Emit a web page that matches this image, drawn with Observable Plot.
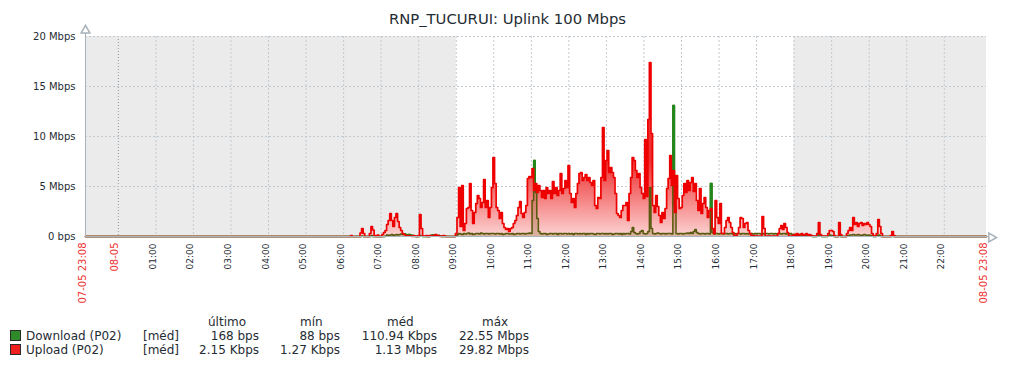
<!DOCTYPE html>
<html><head><meta charset="utf-8">
<script src="https://cdn.jsdelivr.net/npm/d3@7"></script>
<script src="https://cdn.jsdelivr.net/npm/@observablehq/plot@0.6"></script>
<style>
body{margin:0;background:#fff;font-family:"DejaVu Sans",sans-serif;color:#1f2c33}
#wrap{position:relative;width:1016px;height:368px;overflow:hidden}
#chart{position:absolute;left:0;top:0}
#title{position:absolute;left:0;width:1015px;top:9px;text-align:center;font-size:14.8px;line-height:20px}
.lg{position:absolute;font-size:12px;line-height:14px;white-space:nowrap}
.sw{position:absolute;width:9px;height:9px;border:1px solid #2a2a2a}
</style></head><body>
<div id="wrap"><div id="chart"></div><div id="title">RNP_TUCURUI: Uplink 100 Mbps</div><div id="legend"></div></div>
<script>
// time axis: minutes since 08-05 00:00, one sample every 2.5 min, from 07-05 23:07.5 to 08-05 23:07.5
const t0 = -52.5, step = 2.5, tEnd = 1387.5;

// Upload (P02), Mbps — one row per hour
const upload = [
/*23h prev*/ 0,0,0,0,0,0,0,0,0,0,0,0,0,0,0,0,0,0,0,0,0,
/*00*/ 0,0,0,0,0,0,0,0,0,0,0,0,0,0,0,0,0,0,0,0,0,0,0,0,
/*01*/ 0,0,0,0,0,0,0,0,0,0,0,0,0,0,0,0,0,0,0,0,0,0,0,0,
/*02*/ 0,0,0,0,0,0,0,0,0,0,0,0,0,0,0,0,0,0,0,0,0,0,0,0,
/*03*/ 0,0,0,0,0,0,0,0,0,0,0,0,0,0,0,0,0,0,0,0,0,0,0,0,
/*04*/ 0,0,0,0,0,0,0,0,0,0,0,0,0,0,0,0,0,0,0,0,0,0,0,0,
/*05*/ 0,0,0,0,0,0,0,0,0,0,0,0,0,0,0,0,0,0,0,0,0,0,0,0,
/*06*/ 0,0,0,0,0,0.1,0,0,0,0,0,0.35,0.8,0.3,0,0,0,0.3,1.0,0.65,0.1,0,0.15,0,
/*07*/ 0.02,0.2,0.4,0.6,1.2,1.6,2.3,1.6,1.0,1.9,2.3,1.5,0.9,0.6,0.3,0.2,0.1,0.05,0.1,0.05,0,0.1,0.05,0,
/*08*/ 0.1,2.2,0.8,0.05,0.05,0.1,0,0.1,0.05,0.1,0.1,0.2,0.05,0.1,0,0.05,0.1,0.05,0,0,0,0,0,0,
/*09*/ 0.3,1.9,4.9,1.0,5.1,0.6,1.3,2.8,2.9,5.3,2.6,1.3,2.4,3.3,4.1,3.8,2.9,3.4,5.7,2.9,3.6,1.9,2.9,4.9,
/*10*/ 7.9,5.3,2.9,2.6,1.8,2.4,1.3,0.9,0.7,0.8,0.5,0.8,0.9,1.3,1.6,2.1,2.9,3.5,2.3,1.9,2.4,3.1,5.8,6.0,
/*11*/ 5.9,6.8,4.6,5.3,4.4,5.1,4.6,3.9,4.6,3.8,4.9,4.3,4.6,3.8,5.5,4.3,4.9,4.1,4.6,6.3,4.3,4.8,5.6,4.9,
/*12*/ 7.1,4.3,3.4,3.8,2.9,4.3,5.3,6.3,6.4,5.6,5.9,6.2,5.6,5.9,5.4,5.1,5.6,3.1,2.8,3.9,3.8,5.9,10.9,5.6,
/*13*/ 7.6,8.6,6.4,6.9,6.4,5.9,4.3,2.3,2.1,1.9,2.6,3.1,3.1,3.4,1.6,4.3,5.9,7.9,7.6,6.6,5.9,6.3,4.9,4.3,
/*14*/ 3.8,9.7,4.0,11.7,17.4,10.3,3.1,2.4,4.1,3.0,2.1,1.4,2.4,1.8,2.8,4.8,5.8,8.1,5.1,6.6,2.4,6.1,3.8,2.8,
/*15*/ 2.9,4.1,5.3,4.4,5.6,4.6,5.4,5.9,4.5,5.3,3.6,2.6,4.8,2.3,3.3,3.9,2.9,1.9,2.6,2.8,0.8,0.3,3.6,1.9,
/*16*/ 1.3,3.3,0.3,0.3,0.9,1.6,1.9,1.4,0.9,0.4,0.1,0.1,0.3,0.9,1.9,1.8,0.9,1.3,1.4,0.6,0.3,0.1,0.1,0.05,
/*17*/ 0.05,0.05,0.05,0.05,2.0,0.8,0.05,0.05,0.05,0.05,0.05,0.05,0.05,0.05,0.3,0.8,1.1,0.7,1.3,0.9,0.4,0.05,0.05,0.05,
/*18*/ 0.2,0.1,0.3,0.1,0.2,0.3,0.1,0.2,0.3,0.1,0.2,0.1,0.05,0.05,0.05,0.3,1.4,0.2,0.05,0.05,0.05,0.05,0.3,0.6,
/*19*/ 0.6,0.5,0.1,0,0,1.4,0.2,0,0,0,0.3,0.6,0.9,0.6,1.9,1.2,1.4,1.0,1.3,1.4,1.1,1.3,1.2,1.4,
/*20*/ 1.2,1.0,0.3,0.1,0.05,0.3,1.7,1.0,0.3,0,0,0,0,0,0.1,0.5,0.1,0,0,0,0,0,0,0,
/*21*/ 0,0,0,0,0,0,0,0,0,0,0,0,0,0,0,0,0,0,0,0,0,0,0,0,
/*22*/ 0,0,0,0,0,0,0,0,0,0,0,0,0,0,0,0,0,0,0,0,0,0,0,0,
/*23*/ 0,0,0,0
];

// Download (P02), Mbps
const download = [
/*23h prev*/ 0,0,0,0,0,0,0,0,0,0,0,0,0,0,0,0,0,0,0,0,0,
/*00*/ 0,0,0,0,0,0,0,0,0,0,0,0,0,0,0,0,0,0,0,0,0,0,0,0,
/*01*/ 0,0,0,0,0,0,0,0,0,0,0,0,0,0,0,0,0,0,0,0,0,0,0,0,
/*02*/ 0,0,0,0,0,0,0,0,0,0,0,0,0,0,0,0,0,0,0,0,0,0,0,0,
/*03*/ 0,0,0,0,0,0,0,0,0,0,0,0,0,0,0,0,0,0,0,0,0,0,0,0,
/*04*/ 0,0,0,0,0,0,0,0,0,0,0,0,0,0,0,0,0,0,0,0,0,0,0,0,
/*05*/ 0,0,0,0,0,0,0,0,0,0,0,0,0,0,0,0,0,0,0,0,0,0,0,0,
/*06*/ 0,0,0,0,0,0,0,0,0,0,0,0,0.05,0,0,0,0,0,0.1,0,0,0,0,0,
/*07*/ 0,0,0,0.05,0.15,0.1,0.15,0.2,0.1,0.15,0.2,0.15,0.2,0.25,0.2,0.25,0.2,0.15,0.2,0.15,0.1,0.05,0,0,
/*08*/ 0,0.1,0.05,0,0,0,0,0,0.1,0.15,0.1,0.15,0.05,0.1,0.05,0,0,0,0,0,0,0,0,0,
/*09*/ 0.05,0.2,0.3,0.25,0.2,0.3,0.25,0.3,0.35,0.25,0.3,0.2,0.25,0.3,0.3,0.25,0.35,0.3,0.25,0.3,0.3,0.25,0.3,0.3,
/*10*/ 0.3,0.25,0.3,0.3,0.25,0.3,0.2,0.25,0.3,0.3,0.25,0.25,0.3,0.2,0.25,0.3,0.3,0.25,0.3,0.3,0.25,0.3,0.3,0.35,
/*11*/ 0.3,3.6,7.6,4.4,1.8,0.5,0.3,0.25,0.3,0.3,0.2,0.25,0.3,0.3,0.25,0.3,0.3,0.2,0.3,0.3,0.25,0.3,0.3,0.25,
/*12*/ 0.3,0.25,0.3,0.2,0.3,0.3,0.25,0.3,0.25,0.3,0.3,0.2,0.3,0.25,0.3,0.3,0.25,0.2,0.3,0.3,0.25,0.3,0.3,0.25,
/*13*/ 0.3,0.25,0.3,0.3,0.2,0.25,0.3,0.3,0.25,0.3,0.2,0.3,0.25,0.3,0.3,0.25,0.5,0.9,0.4,0.3,0.25,0.3,0.5,0.6,
/*14*/ 0.3,0.25,0.3,0.5,4.9,0.8,0.3,0.25,0.3,0.35,0.3,0.25,0.3,0.3,0.25,0.3,0.3,0.3,0.25,13.1,3.0,0.3,0.25,0.3,
/*15*/ 0.3,0.25,0.3,0.3,0.35,0.3,0.4,0.3,0.5,0.7,0.4,0.3,0.25,0.3,0.3,0.25,0.3,0.3,0.25,5.3,0.4,0.25,0.3,0.3,
/*16*/ 0.25,0.3,0.3,0.25,0.3,0.3,0.25,0.3,0.3,0.25,0.3,0.25,0.3,0.3,0.25,0.3,0.3,0.25,0.3,0.25,0.3,0.3,0.25,0.3,
/*17*/ 0.25,0.3,0.3,0.25,0.3,0.25,0.3,0.3,0.25,0.3,0.3,0.25,0.3,0.25,0.3,0.3,0.25,0.3,0.3,0.25,0.3,0.25,0.3,0.2,
/*18*/ 0.15,0.2,0.1,0.15,0.2,0.1,0.15,0.1,0.2,0.1,0.05,0.1,0,0,0,0.1,0.2,0.1,0,0,0,0,0.1,0.15,
/*19*/ 0.1,0.1,0,0,0,0.15,0,0,0,0,0.1,0.1,0.15,0.15,0.2,0.15,0.15,0.2,0.15,0.1,0.15,0.2,0.15,0.1,
/*20*/ 0.15,0.1,0.1,0,0,0.05,0.15,0.1,0,0,0,0,0,0,0,0.05,0,0,0,0,0,0,0,0,
/*21*/ 0,0,0,0,0,0,0,0,0,0,0,0,0,0,0,0,0,0,0,0,0,0,0,0,
/*22*/ 0,0,0,0,0,0,0,0,0,0,0,0,0,0,0,0,0,0,0,0,0,0,0,0,
/*23*/ 0,0,0,0
];

const hourTicks = [60,120,180,240,300,360,420,480,540,600,660,720,780,840,900,960,1020,1080,1140,1200,1260,1320];
const hourLabels = ["01:00","02:00","03:00","04:00","05:00","06:00","07:00","08:00","09:00","10:00","11:00","12:00","13:00","14:00","15:00","16:00","17:00","18:00","19:00","20:00","21:00","22:00"];
const edgeTicks = [-52.5, 0, 1387.5];
const edgeLabels = ["07-05 23:08", "08-05", "08-05 23:08"];
const yTicks = [0, 5, 10, 15, 20];
const yTickLabels = ["0 bps", "5 Mbps", "10 Mbps", "15 Mbps", "20 Mbps"];
const offHours = [[-52.5, 540], [1080, 1387.5]]; // non-working time (grey)
const workHours = [540, 1080];

const legendNames = ["Download (P02)", "Upload (P02)"];
const legendColors = ["#2f8a2a", "#ee2020"];
const legendHeaders = ["último", "mín", "méd", "máx"];
const legendLast = ["168 bps", "2.15 Kbps"];
const legendMin = ["88 bps", "1.27 Kbps"];
const legendAvg = ["110.94 Kbps", "1.13 Mbps"];
const legendMax = ["22.55 Mbps", "29.82 Mbps"];

if (upload.length !== download.length) throw new Error("length mismatch " + upload.length + " " + download.length);
const rows = upload.map((v, i) => ({t: t0 + i * step, up: v, down: download[i]}));
const curve = "step";

const chart = Plot.plot({
  width: 1016, height: 368,
  marginLeft: 85, marginRight: 30, marginTop: 36, marginBottom: 132,
  x: {domain: [t0, tEnd], axis: null},
  y: {domain: [0, 20], axis: null},
  style: {fontFamily: "DejaVu Sans", color: "#1f2c33", background: "white", overflow: "visible"},
  marks: [
    (index, scales) => {
      const defs = d3.create("svg:defs");
      const lg = defs.append("linearGradient").attr("id", "upGrad").attr("gradientUnits", "userSpaceOnUse")
        .attr("x1", 0).attr("x2", 0).attr("y1", scales.y(0)).attr("y2", scales.y(7.5));
      lg.append("stop").attr("offset", 0).attr("stop-color", "#fcd2d2");
      lg.append("stop").attr("offset", 1).attr("stop-color", "#ee3030");
      return defs.node();
    },
    Plot.rect(offHours, {x1: d => d[0], x2: d => d[1], y1: 0, y2: 20, fill: "#ebebeb"}),
    Plot.ruleX(hourTicks, {stroke: "#c2cad1", strokeDasharray: "2,2"}),
    Plot.ruleX([0], {stroke: "#8e979f", strokeDasharray: "1,2"}),
    Plot.ruleY(yTicks.slice(1), {stroke: "#c2cad1", strokeDasharray: "2,2"}),
    Plot.areaY(rows, {x: "t", y: "up", fill: "url(#upGrad)", curve}),
    Plot.areaY(rows, {x: "t", y: "down", fill: "#8a6a30", fillOpacity: 0.3, curve}),
    Plot.lineY(rows, {x: "t", y: "down", stroke: "#56590c", strokeWidth: 1.5, curve}),
    Plot.lineY(rows, {x: "t", y: "down", stroke: "#1c8c1c", strokeWidth: 1.4, curve}),
    Plot.lineY(rows, {x: "t", y: "up", stroke: "#ee0000", strokeWidth: 1.7, curve}),
    Plot.ruleX([t0], {y1: 0, y2: 20.4, stroke: "#a9b3bb"}),
    Plot.ruleY([0], {x1: t0, x2: tEnd + 3, stroke: "#a9b3bb"}),
    Plot.dot([20.4], {x: t0, y: d => d, symbol: "triangle", r: 3.3, stroke: "#a9b3bb", fill: "white", dy: -2}),
    Plot.dot([0], {x: tEnd + 3, y: d => d, symbol: "triangle", r: 3.3, rotate: 90, stroke: "#a9b3bb", fill: "white", dx: 3, dy: 1}),
    Plot.text(yTicks, {y: d => d, text: (d, i) => yTickLabels[i], frameAnchor: "left", textAnchor: "end", dx: -10, fontSize: 10, fill: "#1f2c33"}),
    Plot.text(hourTicks, {x: d => d, text: (d, i) => hourLabels[i], frameAnchor: "bottom", rotate: -90, textAnchor: "end", dy: 7, fontSize: 9, fill: "#1f2c33"}),
    Plot.text(edgeTicks, {x: d => d, text: (d, i) => edgeLabels[i], frameAnchor: "bottom", rotate: -90, textAnchor: "end", dy: 6, fontSize: 10, fill: "#ee3333"})
  ]
});
document.getElementById("chart").appendChild(chart);

// green download line only where it rises above the upload fill (olive underneath)
(function () {
  const svg = d3.select(chart);
  const areaPath = chart.querySelectorAll('g[aria-label="area"] path')[0];
  const lines = chart.querySelectorAll('g[aria-label="line"]');
  const xs = d3.scaleLinear().domain([t0, tEnd]).range([85, 986]);
  const defs = svg.select("defs");
  const m = defs.append("mask").attr("id", "aboveUp").attr("maskUnits", "userSpaceOnUse")
    .attr("x", 0).attr("y", 0).attr("width", 1016).attr("height", 368);
  m.append("rect").attr("x", 0).attr("y", 0).attr("width", 1016).attr("height", 368).attr("fill", "white");
  m.append("path").attr("d", areaPath.getAttribute("d")).attr("fill", "black");
  m.append("rect").attr("x", xs(workHours[0])).attr("width", xs(workHours[1]) - xs(workHours[0]))
    .attr("y", 228).attr("height", 12).attr("fill", "black");
  lines[1].setAttribute("mask", "url(#aboveUp)");
})();

// legend
const L = document.getElementById("legend");
function add(txt, cls, style) { const d = document.createElement("div"); d.className = cls; d.textContent = txt; Object.assign(d.style, style); L.appendChild(d); return d; }
const headerX = [208, 300, 387, 482];
legendHeaders.forEach((h, i) => add(h, "lg", {left: headerX[i] + "px", top: "315px"}));
const rowTop = [329, 343];
const colEnds = [259, 340, 437, 529];
legendNames.forEach((n, r) => {
  add("", "sw", {left: "10px", top: (rowTop[r] + 1) + "px", background: legendColors[r]});
  add(n, "lg", {left: "26px", top: rowTop[r] + "px"});
  add("[méd]", "lg", {left: "143px", top: rowTop[r] + "px"});
  [legendLast, legendMin, legendAvg, legendMax].forEach((col, c) => {
    add(col[r], "lg", {right: (1016 - colEnds[c]) + "px", top: rowTop[r] + "px", textAlign: "right"});
  });
});
</script>
</body></html>
